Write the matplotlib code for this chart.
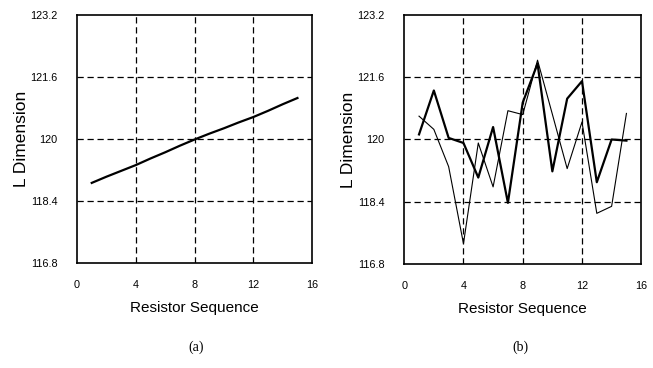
import matplotlib
matplotlib.use("Agg")
from matplotlib import pyplot as plt

# resistor index
seq = list(range(1, 16))

# (a) smooth drift
dim_a = [118.87, 119.03, 119.18, 119.33, 119.50, 119.66, 119.83, 119.99,
         120.14, 120.28, 120.43, 120.57, 120.73, 120.90, 121.06]

# (b) two noisy runs
dim_b1 = [120.13, 121.26, 120.04, 119.91, 119.02, 120.32, 118.37, 120.95,
          121.95, 119.18, 121.05, 121.50, 118.90, 120.00, 119.97]
dim_b2 = [120.60, 120.26, 119.30, 117.32, 119.91, 118.78, 120.74, 120.64,
          122.04, 120.65, 119.25, 120.45, 118.10, 118.28, 120.67]

x_ticks = [0, 4, 8, 12, 16]
y_ticks = [116.8, 118.4, 120, 121.6, 123.2]
y_tick_labels = ["116.8", "118.4", "120", "121.6", "123.2"]

plt.rcParams["font.family"] = ["Liberation Sans Narrow", "Liberation Sans", "DejaVu Sans"]

fig = plt.figure(figsize=(6.53, 3.68), dpi=100)
ax_a = fig.add_axes([0.118, 0.285, 0.360, 0.674])
ax_b = fig.add_axes([0.619, 0.283, 0.363, 0.676])


def style(ax):
    ax.set_xlim(0, 16)
    ax.set_ylim(116.8, 123.2)
    ax.set_xticks(x_ticks)
    ax.set_yticks(y_ticks)
    ax.set_yticklabels(y_tick_labels)
    ax.tick_params(length=0, labelsize=7.8, pad=12)
    ax.tick_params(axis="y", pad=14)
    for x in [4, 8, 12]:
        ax.axvline(x, color="black", lw=0.9, ls=(0, (5, 3)), zorder=1)
    for y in [118.4, 120, 121.6]:
        ax.axhline(y, color="black", lw=0.9, ls=(0, (5, 3)), zorder=1)
    for s in ax.spines.values():
        s.set_linewidth(1.2)
    ax.set_xlabel("Resistor Sequence", fontsize=11, labelpad=8)
    ax.set_ylabel("L Dimension", fontsize=12.5, labelpad=1)


style(ax_a)
ax_a.plot(seq, dim_a, color="black", lw=1.6, zorder=3)

style(ax_b)
ax_b.plot(seq, dim_b1, color="black", lw=1.6, zorder=3)
ax_b.plot(seq, dim_b2, color="black", lw=0.8, zorder=3)

fig.text(0.300, 0.057, "(a)", ha="center", va="center", fontsize=10, family="Liberation Serif")
fig.text(0.797, 0.057, "(b)", ha="center", va="center", fontsize=10, family="Liberation Serif")

fig.savefig("out.png", dpi=100)
